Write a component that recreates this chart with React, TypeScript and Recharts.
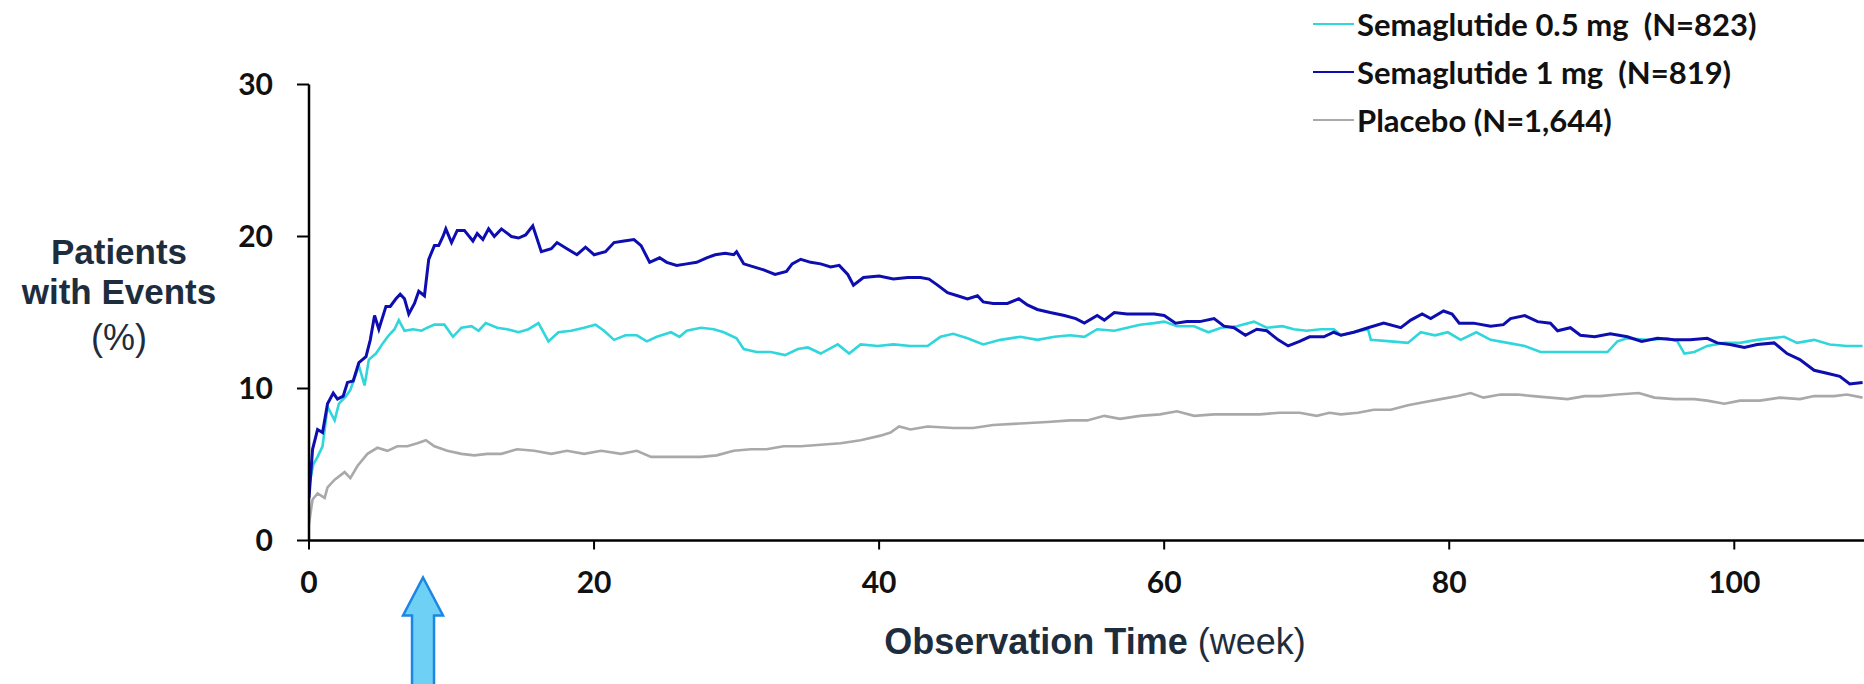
import React from "react";
import { LineChart, Line, XAxis, YAxis, ReferenceDot } from "recharts";

const xTicks = [0, 20, 40, 60, 80, 100];
const yTicks = [0, 10, 20, 30];

const seriesNames = [
  "Placebo (N=1,644)",
  "Semaglutide 0.5 mg  (N=823)",
  "Semaglutide 1 mg  (N=819)",
];
const legendOrder = [1, 2, 0];
const seriesColors = ["#a9a9a9", "#2fd6dc", "#0d0db0"];

const placeboWeeks = [0, 0.25, 0.6, 1.1, 1.3, 1.8, 2.5, 2.9, 3.4, 4.1, 4.8, 5.5, 6.2, 6.9, 7.6, 8.2, 8.8, 9.7, 10.7, 11.6, 12.5, 13.5, 14.6, 15.8, 17.0, 18.1, 19.3, 20.5, 21.9, 23.0, 24.0, 25.1, 26.3, 27.5, 28.6, 29.8, 31.0, 32.1, 33.3, 34.5, 35.9, 37.3, 38.7, 40.1, 40.8, 41.4, 42.2, 43.4, 45.2, 46.6, 48.0, 49.9, 51.8, 53.4, 54.6, 55.8, 56.9, 58.3, 59.7, 60.9, 62.1, 63.5, 65.1, 66.7, 68.1, 69.5, 70.7, 71.6, 72.4, 73.6, 74.7, 75.9, 77.1, 78.2, 79.4, 80.6, 81.5, 82.4, 83.6, 84.8, 85.9, 87.1, 88.3, 89.5, 90.6, 91.8, 93.3, 94.4, 95.8, 97.2, 98.1, 99.3, 100.4, 101.8, 103.2, 104.6, 105.6, 107.0, 107.9, 109.0];
const placeboValues = [1.1, 2.7, 3.1, 2.8, 3.5, 4.0, 4.5, 4.1, 4.9, 5.7, 6.1, 5.9, 6.2, 6.2, 6.4, 6.6, 6.2, 5.9, 5.7, 5.6, 5.7, 5.7, 6.0, 5.9, 5.7, 5.9, 5.7, 5.9, 5.7, 5.9, 5.5, 5.5, 5.5, 5.5, 5.6, 5.9, 6.0, 6.0, 6.2, 6.2, 6.3, 6.4, 6.6, 6.9, 7.1, 7.5, 7.3, 7.5, 7.4, 7.4, 7.6, 7.7, 7.8, 7.9, 7.9, 8.2, 8.0, 8.2, 8.3, 8.5, 8.2, 8.3, 8.3, 8.3, 8.4, 8.4, 8.2, 8.4, 8.3, 8.4, 8.6, 8.6, 8.9, 9.1, 9.3, 9.5, 9.7, 9.4, 9.6, 9.6, 9.5, 9.4, 9.3, 9.5, 9.5, 9.6, 9.7, 9.4, 9.3, 9.3, 9.2, 9.0, 9.2, 9.2, 9.4, 9.3, 9.5, 9.5, 9.6, 9.4];

const sema05Weeks = [0, 0.3, 0.6, 0.95, 1.3, 1.8, 2.1, 2.6, 2.9, 3.5, 3.9, 4.2, 4.7, 5.2, 5.6, 6.0, 6.3, 6.7, 7.3, 7.9, 8.3, 8.8, 9.5, 10.1, 10.7, 11.4, 11.9, 12.4, 13.2, 13.9, 14.7, 15.4, 16.1, 16.8, 17.5, 18.4, 19.3, 20.1, 20.7, 21.4, 22.2, 23.0, 23.7, 24.4, 25.4, 26.0, 26.5, 27.5, 28.4, 29.1, 30.0, 30.5, 31.4, 32.4, 33.4, 34.3, 35.0, 35.9, 37.1, 37.9, 38.7, 39.9, 41.0, 42.2, 43.4, 44.3, 45.2, 46.2, 47.3, 48.5, 49.9, 51.1, 52.3, 53.4, 54.4, 55.3, 56.5, 57.4, 58.3, 59.3, 60.0, 60.9, 62.1, 63.1, 64.0, 65.1, 66.3, 67.2, 68.3, 69.1, 70.0, 71.0, 71.9, 72.4, 73.3, 74.3, 74.5, 75.9, 77.1, 78.0, 79.0, 79.9, 80.8, 81.9, 82.9, 84.1, 85.3, 86.4, 87.6, 88.8, 90.2, 91.1, 91.8, 92.5, 93.9, 95.3, 96.0, 96.5, 97.2, 98.1, 99.3, 100.4, 101.6, 102.5, 103.5, 104.4, 105.6, 106.7, 107.9, 109.0];
const sema05Values = [3.6, 5.0, 5.5, 6.2, 8.8, 7.9, 9.0, 9.5, 9.9, 11.5, 10.2, 11.9, 12.3, 13.0, 13.5, 13.9, 14.5, 13.8, 13.9, 13.8, 14.0, 14.2, 14.2, 13.4, 14.0, 14.1, 13.8, 14.3, 14.0, 13.9, 13.7, 13.9, 14.3, 13.1, 13.7, 13.8, 14.0, 14.2, 13.8, 13.2, 13.5, 13.5, 13.1, 13.4, 13.7, 13.4, 13.8, 14.0, 13.9, 13.7, 13.3, 12.6, 12.4, 12.4, 12.2, 12.6, 12.7, 12.3, 12.9, 12.3, 12.9, 12.8, 12.9, 12.8, 12.8, 13.4, 13.6, 13.3, 12.9, 13.2, 13.4, 13.2, 13.4, 13.5, 13.4, 13.9, 13.8, 14.0, 14.2, 14.3, 14.4, 14.1, 14.1, 13.7, 14.0, 14.1, 14.4, 14.0, 14.1, 13.9, 13.8, 13.9, 13.9, 13.5, 13.7, 13.9, 13.2, 13.1, 13.0, 13.7, 13.5, 13.7, 13.2, 13.7, 13.2, 13.0, 12.8, 12.4, 12.4, 12.4, 12.4, 12.4, 13.1, 13.3, 13.2, 13.3, 13.1, 12.3, 12.4, 12.8, 13.0, 13.0, 13.2, 13.3, 13.4, 13.0, 13.2, 12.9, 12.8, 12.8];

const sema1Weeks = [0, 0.25, 0.6, 0.95, 1.3, 1.7, 2.0, 2.4, 2.7, 3.1, 3.5, 4.0, 4.3, 4.6, 4.9, 5.4, 5.7, 6.1, 6.4, 6.7, 7.0, 7.4, 7.7, 8.1, 8.4, 8.8, 9.1, 9.4, 9.6, 10.0, 10.4, 10.9, 11.5, 11.8, 12.2, 12.6, 13.0, 13.5, 14.2, 14.7, 15.2, 15.7, 16.3, 17.0, 17.4, 18.1, 18.8, 19.4, 20.0, 20.8, 21.4, 22.1, 22.8, 23.3, 23.9, 24.6, 25.1, 25.8, 26.5, 27.2, 27.9, 28.5, 29.2, 29.8, 30.0, 30.5, 31.2, 31.9, 32.7, 33.5, 33.9, 34.5, 35.2, 35.9, 36.6, 37.2, 37.8, 38.2, 38.9, 40.0, 41.0, 42.0, 42.9, 43.5, 44.1, 44.8, 45.5, 46.2, 46.9, 47.3, 48.0, 49.0, 49.8, 50.4, 51.1, 52.0, 53.0, 53.8, 54.4, 55.3, 55.8, 56.5, 57.4, 58.3, 59.3, 60.0, 60.8, 61.6, 62.5, 63.5, 64.2, 64.9, 65.7, 66.5, 67.2, 68.0, 68.7, 69.5, 70.2, 71.2, 71.9, 72.4, 73.3, 74.3, 75.4, 76.6, 77.3, 78.1, 78.7, 79.6, 80.2, 80.7, 81.7, 82.9, 83.8, 84.3, 85.3, 86.2, 87.1, 87.6, 88.5, 89.2, 90.2, 91.3, 92.5, 93.5, 94.6, 95.8, 96.9, 98.1, 98.8, 99.7, 100.7, 101.6, 102.8, 103.7, 104.6, 105.6, 106.5, 107.4, 108.1, 109.0];
const sema1Values = [2.8, 6.0, 7.3, 7.1, 9.0, 9.7, 9.3, 9.5, 10.4, 10.5, 11.7, 12.1, 13.2, 14.8, 13.9, 15.4, 15.4, 15.9, 16.2, 15.9, 14.9, 15.6, 16.4, 16.1, 18.5, 19.4, 19.4, 20.0, 20.5, 19.6, 20.4, 20.4, 19.7, 20.2, 19.8, 20.5, 20.0, 20.5, 20.0, 19.9, 20.1, 20.7, 19.0, 19.2, 19.6, 19.2, 18.8, 19.3, 18.8, 19.0, 19.6, 19.7, 19.8, 19.4, 18.3, 18.6, 18.3, 18.1, 18.2, 18.3, 18.6, 18.8, 18.9, 18.8, 19.0, 18.2, 18.0, 17.8, 17.5, 17.7, 18.2, 18.5, 18.3, 18.2, 18.0, 18.1, 17.5, 16.8, 17.3, 17.4, 17.2, 17.3, 17.3, 17.2, 16.8, 16.3, 16.1, 15.9, 16.1, 15.7, 15.6, 15.6, 15.9, 15.5, 15.2, 15.0, 14.8, 14.6, 14.3, 14.8, 14.5, 15.0, 14.9, 14.9, 14.9, 14.8, 14.3, 14.4, 14.4, 14.6, 14.1, 14.0, 13.5, 13.9, 13.8, 13.2, 12.8, 13.1, 13.4, 13.4, 13.7, 13.5, 13.7, 14.0, 14.3, 14.0, 14.5, 14.9, 14.6, 15.1, 14.9, 14.3, 14.3, 14.1, 14.2, 14.6, 14.8, 14.4, 14.3, 13.8, 14.0, 13.5, 13.4, 13.6, 13.4, 13.1, 13.3, 13.2, 13.2, 13.3, 13.0, 12.9, 12.7, 12.9, 13.0, 12.3, 11.9, 11.2, 11.0, 10.8, 10.3, 10.4];

const arrowWeek = 8;

const toPoints = (weeks: number[], values: number[]) =>
  weeks.map((w, i) => ({ week: w, value: values[i] }));

const seriesData = [
  toPoints(placeboWeeks, placeboValues),
  toPoints(sema05Weeks, sema05Values),
  toPoints(sema1Weeks, sema1Values),
];
const seriesWidths = [2.6, 2.6, 3];

const tickFont = { fontFamily: "Lato, sans-serif", fontWeight: 700, fontSize: 30, fill: "#111" };
const titleColor = "#1e2d3d";

const ArrowShape = (props: any) => {
  const { cx, cy } = props;
  const tip = cy + 37;
  const headH = 38;
  const headW = 20;
  const shaftW = 11;
  const bottom = cy + 170;
  const d = `M ${cx} ${tip} L ${cx + headW} ${tip + headH} L ${cx + shaftW} ${tip + headH} L ${cx + shaftW} ${bottom} L ${cx - shaftW} ${bottom} L ${cx - shaftW} ${tip + headH} L ${cx - headW} ${tip + headH} Z`;
  return <path d={d} fill="#6fd0f5" stroke="#1b86e3" strokeWidth={2.5} strokeLinejoin="miter" />;
};

const YTitle = (props: any) => {
  const vb = props.viewBox || { x: 0 };
  const cx = vb.x - 130;
  return (
    <text textAnchor="middle" fill={titleColor} fontFamily="'Liberation Sans', Arial, sans-serif">
      <tspan x={cx} y={264} fontWeight={700} fontSize={35}>Patients</tspan>
      <tspan x={cx} y={304} fontWeight={700} fontSize={35}>with Events</tspan>
      <tspan x={cx} y={350} fontWeight={400} fontSize={36}>(%)</tspan>
    </text>
  );
};

const XTitle = () => {
  return (
    <text x={1095} y={654} textAnchor="middle" fill={titleColor} fontFamily="'Liberation Sans', Arial, sans-serif" fontSize={36}>
      <tspan fontWeight={700}>Observation Time</tspan>
      <tspan fontWeight={400}> (week)</tspan>
    </text>
  );
};

export default function App() {
  return (
    <div style={{ position: "absolute", left: 0, top: 0, width: 1864, height: 684, background: "#fff", overflow: "hidden" }}>
      <LineChart width={1864} height={684} margin={{ top: 84.5, right: 0, bottom: 103.5, left: 249 }}>
        <XAxis
          type="number"
          dataKey="week"
          domain={[0, 109.1]}
          ticks={xTicks}
          allowDataOverflow
          stroke="#000"
          strokeWidth={2.5}
          tickSize={9}
          tickMargin={22}
          tick={tickFont}
          tickLine={{ stroke: "#000", strokeWidth: 2 }}
          height={40}
          label={<XTitle />}
        />
        <YAxis
          type="number"
          dataKey="value"
          domain={[0, 30]}
          ticks={yTicks}
          stroke="#000"
          strokeWidth={2.5}
          tickSize={12}
          tickMargin={24}
          tick={tickFont}
          tickLine={{ stroke: "#000", strokeWidth: 2 }}
          width={60}
          label={<YTitle />}
        />
        {seriesData.map((d, i) => (
          <Line
            key={seriesNames[i]}
            data={d}
            dataKey="value"
            name={seriesNames[i]}
            type="linear"
            stroke={seriesColors[i]}
            strokeWidth={seriesWidths[i]}
            dot={false}
            activeDot={false}
            isAnimationActive={false}
          />
        ))}
        <ReferenceDot x={arrowWeek} y={0} ifOverflow="visible" shape={<ArrowShape />} />
      </LineChart>
      <div style={{ position: "absolute", left: 1313, top: 0, fontFamily: "Lato, sans-serif", fontWeight: 700, fontSize: 31, color: "#111" }}>
        {legendOrder.map((i) => (
          <div key={i} style={{ display: "flex", alignItems: "center", height: 48, whiteSpace: "pre" }}>
            <span style={{ display: "inline-block", width: 41, height: 2.5, background: seriesColors[i], marginRight: 3 }} />
            <span>{seriesNames[i]}</span>
          </div>
        ))}
      </div>
    </div>
  );
}
